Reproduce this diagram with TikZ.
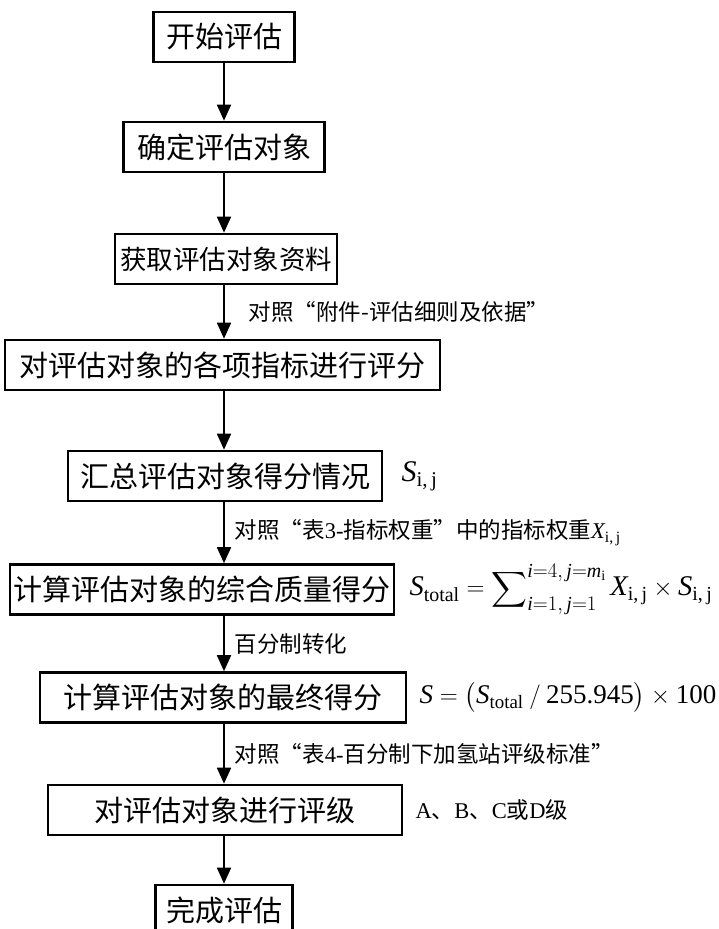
\documentclass[tikz,border=0pt]{standalone}
\usepackage{amsmath}
\usepackage{fontspec}
\setmainfont{Liberation Serif}
\newfontfamily\cjk{Noto Sans CJK SC}
\usetikzlibrary{arrows.meta,positioning}

\newcommand{\mv}[1]{\text{\itshape #1}}
\newcommand{\mr}[1]{\text{\upshape #1}}

\tikzset{
  stepbox/.style={rectangle, draw=black, line width=2.6pt, minimum height=50pt, inner sep=0pt, text centered, font=\cjk\fontsize{29}{31}\selectfont},
  arrow/.style={line width=1.8pt, -{Triangle[width=14pt,length=16pt]}},
  note/.style={anchor=west, inner sep=0pt, font=\fontsize{22.5}{24}\selectfont},
  formula/.style={inner sep=0pt, font=\fontsize{27}{29}\selectfont}
}

\begin{document}
\begin{tikzpicture}[x=1pt,y=-1pt]
\useasboundingbox (0,0) rectangle (719,929);

\node (start) [stepbox, minimum width=141pt] at (224,37) {开始评估};
\node (obj) [stepbox, minimum width=201pt] at (224,147) {确定评估对象};
\node (data) [stepbox, minimum width=222pt, font=\cjk\fontsize{26.5}{28}\selectfont] at (226,259) {获取评估对象资料};
\node (score) [stepbox, minimum width=435pt] at (222.5,365) {对评估对象的各项指标进行评分};
\node (sum) [stepbox, minimum width=314pt] at (225,476) {汇总评估对象得分情况};
\node (total) [stepbox, minimum width=384pt] at (202,589.5) {计算评估对象的综合质量得分};
\node (final) [stepbox, minimum width=366pt] at (223,697.5) {计算评估对象的最终得分};
\node (grade) [stepbox, minimum width=354pt] at (225,810) {对评估对象进行评级};
\node (stop) [stepbox, minimum width=137pt] at (224,910) {完成评估};

% values beside the boxes
\node (sij) [formula, right=18pt of sum, font=\fontsize{30}{32}\selectfont] {$\mv{S}_{\mr{i,\,j}}$};
\node (stotal) [formula, right=14pt of total, font=\fontsize{28.5}{30}\selectfont] {$\mv{S}_{\mr{total}}=\displaystyle\sum\nolimits_{\mv{i}=1,\,\mv{j}=1}^{\mv{i}=4,\,\mv{j}=\mv{m}_{\mr{i}}} \mv{X}_{\mr{i,\,j}}\times \mv{S}_{\mr{i,\,j}}$};
\node (sfinal) [formula, right=12pt of final] {$\mv{S}=\bigl(\mv{S}_{\mr{total}}\:/\:\mr{255.945}\bigr)\times \mr{100}$};
\node (level) [note, right=12pt of grade] {A{\cjk 、}B{\cjk 、}C{\cjk 或}D{\cjk 级}};

\draw [arrow] (start) -- (obj);
\draw [arrow] (obj) -- (data.north -| 224,0);
\draw [arrow] (data.south -| 224,0) -- node (n1) [note, xshift=24pt] {\cjk 对照“附件-评估细则及依据”} (score.north -| 224,0);
\draw [arrow] (score.south -| 224,0) -- (sum.north -| 224,0);
\draw [arrow] (sum.south -| 224,0) -- node (n2) [note, xshift=10pt] {{\cjk 对照“表}3-{\cjk 指标权重”中的指标权重}$\mv{X}_{\mr{i,\,j}}$} (total.north -| 224,0);
\draw [arrow] (total.south -| 224,0) -- node (n3) [note, xshift=10pt] {\cjk 百分制转化} (final.north -| 224,0);
\draw [arrow] (final.south -| 224,0) -- node (n4) [note, xshift=10pt] {{\cjk 对照“表}4-{\cjk 百分制下加氢站评级标准”}} (grade.north -| 224,0);
\draw [arrow] (grade.south -| 224,0) -- (stop.north -| 224,0);

\end{tikzpicture}
\end{document}
